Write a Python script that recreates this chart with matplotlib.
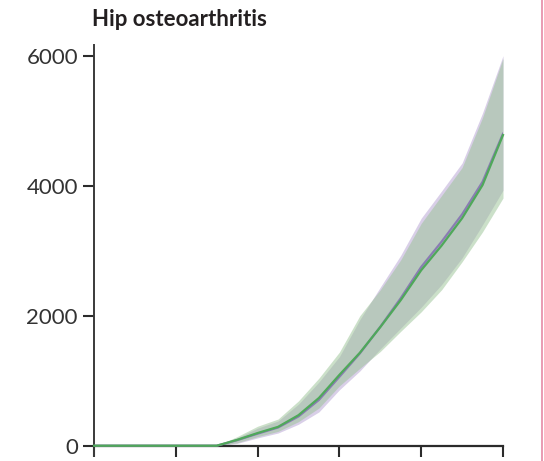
import numpy as np
from matplotlib import pyplot as plt
from matplotlib.lines import Line2D

plt.rcParams['font.family'] = ['Lato', 'DejaVu Sans']

x = list(range(21))
xticks = [0, 4, 8, 12, 16, 20]
yticks = [0, 2000, 4000, 6000]

green_mean = [0, 0, 0, 0, 0, 0, 0, 90, 195, 290, 470, 735, 1090, 1430, 1825, 2240, 2700, 3080, 3500, 4010, 4780]
green_low = [0, 0, 0, 0, 0, 0, 0, 45, 140, 220, 370, 580, 920, 1190, 1450, 1760, 2060, 2400, 2830, 3290, 3810]
green_high = [0, 0, 0, 0, 0, 0, 0, 140, 300, 410, 690, 1040, 1440, 2000, 2400, 2860, 3420, 3850, 4280, 5050, 5960]

purple_mean = [0, 0, 0, 0, 0, 0, 0, 85, 185, 280, 450, 705, 1060, 1420, 1830, 2270, 2750, 3140, 3560, 4060, 4800]
purple_low = [0, 0, 0, 0, 0, 0, 0, 35, 120, 195, 330, 520, 860, 1150, 1490, 1810, 2130, 2480, 2890, 3400, 3930]
purple_high = [0, 0, 0, 0, 0, 0, 0, 120, 270, 380, 640, 980, 1370, 1940, 2440, 2930, 3500, 3920, 4350, 5120, 6000]

fig = plt.figure(figsize=(5.44, 4.61), dpi=100)
ax = fig.add_axes([94 / 544, 0.0106, (503 - 94) / 544, 0.9031 - 0.0106])

ax.fill_between(x, purple_low, purple_high, color=(0.67, 0.59, 0.80), alpha=0.45, lw=0)
ax.fill_between(x, green_low, green_high, color=(0.60, 0.76, 0.58), alpha=0.5, lw=0)
ax.plot(x, purple_mean, color='#8a7cb3', lw=1.6, zorder=4)
ax.plot(x, green_mean, color='#4fa85a', lw=1.6, zorder=5, clip_on=False)

ax.set_xlim(0, 20)
ax.set_ylim(-160, 6170)
ax.set_xticks(xticks)
ax.set_xticklabels([])
ax.set_yticks(yticks)
ax.set_yticklabels([str(v) for v in yticks], fontsize=16, color='#333333')

for s in ['top', 'right']:
    ax.spines[s].set_visible(False)
ax.spines['bottom'].set_position(('data', 0))
ax.spines['bottom'].set_color('#2b2b2b')
ax.spines['left'].set_color('#3a3a3a')
ax.spines['bottom'].set_linewidth(1.6)
ax.spines['left'].set_linewidth(1.4)
ax.tick_params(axis='both', direction='out', length=8, width=1.5, color='#2b2b2b', pad=3.6)

fig.text(92 / 544, 1 - 26 / 461, 'Hip osteoarthritis', fontsize=16, fontweight='bold',
         color='#231f20', va='baseline', ha='left')

fig.add_artist(Line2D([542 / 544, 542 / 544], [0, 1], color='#e58aa6', lw=1.2))

plt.savefig('out.png', dpi=100)
